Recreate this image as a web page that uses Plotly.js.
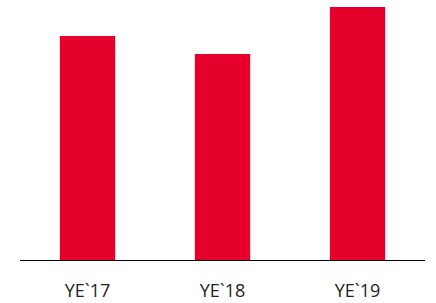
<!DOCTYPE html>
<html>
<head>
<script src="https://cdn.plot.ly/plotly-3.0.1.min.js"></script>
<style>html,body{margin:0;padding:0;background:#fff;}#chart{width:436px;height:303px;}</style>
</head>
<body>
<div id="chart"></div>
<script>
const categories = ["YE`17", "YE`18", "YE`19"];
const values = [224, 206, 253];

Plotly.newPlot("chart", [{
  type: "bar",
  x: categories,
  y: values,
  marker: {color: "#E4002B"},
  hoverinfo: "none"
}], {
  width: 436, height: 303,
  margin: {l: 20, r: 11, t: 0, b: 43},
  bargap: 0.59,
  paper_bgcolor: "#fff", plot_bgcolor: "#fff",
  showlegend: false,
  xaxis: {
    showline: true, linecolor: "#000", linewidth: 1,
    ticks: "", showgrid: false, zeroline: false,
    tickfont: {family: "Open Sans", size: 18, color: "#222"},
    ticklabelstandoff: 14
  },
  yaxis: {
    range: [0, 260], visible: false, showgrid: false, zeroline: false
  }
}, {staticPlot: true});
</script>
</body>
</html>
